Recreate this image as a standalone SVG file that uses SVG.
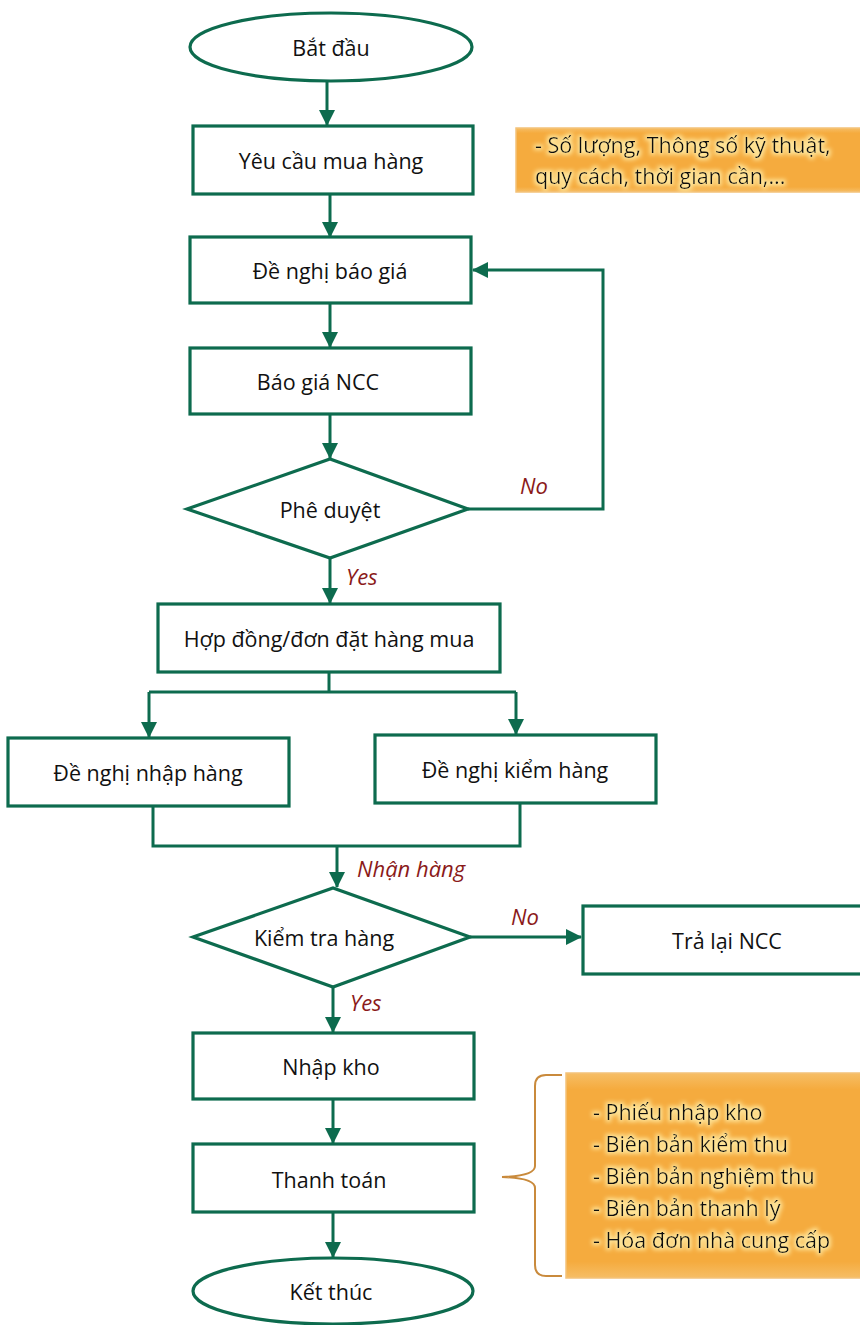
<svg xmlns="http://www.w3.org/2000/svg" width="860" height="1325" viewBox="0 0 860 1325">
  <defs>
    <marker id="arrow" markerUnits="userSpaceOnUse" markerWidth="16" markerHeight="16" viewBox="0 0 16 16" refX="15" refY="8" orient="auto">
      <path d="M0,0 L16,8 L0,16 Z" fill="#0D6B4E"/>
    </marker>
    <filter id="glow" x="-10%" y="-30%" width="120%" height="160%">
      <feMorphology in="SourceAlpha" operator="dilate" radius="1.5" result="thick"/>
      <feGaussianBlur in="thick" stdDeviation="2" result="blur"/>
      <feFlood flood-color="#FFE9A0" flood-opacity="0.9"/>
      <feComposite in2="blur" operator="in" result="halo"/>
      <feMerge>
        <feMergeNode in="halo"/>
        <feMergeNode in="SourceGraphic"/>
      </feMerge>
    </filter>
    <linearGradient id="noteFill" x1="0" y1="0" x2="0" y2="1">
      <stop offset="0" stop-color="#F6BE66"/>
      <stop offset="0.08" stop-color="#F5AB3E"/>
      <stop offset="0.92" stop-color="#F5AB3E"/>
      <stop offset="1" stop-color="#F6BE66"/>
    </linearGradient>
  </defs>
  <style>
    .shape { fill: #FFFFFF; stroke: #0D6B4E; stroke-width: 3.2; }
    .label { font-family: "Open Sans", "Liberation Sans", sans-serif; font-size: 21.5px; fill: #111111; text-anchor: middle; dominant-baseline: central; }
    .flow { fill: none; stroke: #0D6B4E; stroke-width: 3; }
    .tag { font-family: "Open Sans", "Liberation Sans", sans-serif; font-size: 22px; font-style: italic; fill: #8B1A1A; }
    .note { fill: url(#noteFill); stroke: #F3C27A; stroke-width: 1.5; }
    .noteText { font-family: "Open Sans", "Liberation Sans", sans-serif; font-size: 21.5px; fill: #111111; }
    .brace { fill: none; stroke: #C98A3C; stroke-width: 2; }
  </style>

  <rect width="860" height="1325" fill="#FFFFFF"/>

  <!-- connectors -->
  <g id="connectors">
    <path class="flow" d="M327,82 V125" marker-end="url(#arrow)"/>
    <path class="flow" d="M330,194 V237" marker-end="url(#arrow)"/>
    <path class="flow" d="M330,303 V347" marker-end="url(#arrow)"/>
    <path class="flow" d="M330,414 V458" marker-end="url(#arrow)"/>
    <path class="flow" d="M468,509 H603 V270 H473" marker-end="url(#arrow)"/>
    <path class="flow" d="M330,558 V603" marker-end="url(#arrow)"/>
    <path class="flow" d="M329,672 V692"/>
    <path class="flow" d="M149,692 H516"/>
    <path class="flow" d="M149,692 V737" marker-end="url(#arrow)"/>
    <path class="flow" d="M516,692 V734" marker-end="url(#arrow)"/>
    <path class="flow" d="M153,806 V846 H520 V803"/>
    <path class="flow" d="M337,846 V887" marker-end="url(#arrow)"/>
    <path class="flow" d="M470,937 H581" marker-end="url(#arrow)"/>
    <path class="flow" d="M333,987 V1032" marker-end="url(#arrow)"/>
    <path class="flow" d="M333,1100 V1143" marker-end="url(#arrow)"/>
    <path class="flow" d="M333,1212 V1257" marker-end="url(#arrow)"/>
    <text class="tag" x="520" y="494">No</text>
    <text class="tag" x="346" y="585">Yes</text>
    <text class="tag" x="357" y="877">Nhận hàng</text>
    <text class="tag" x="511" y="925">No</text>
    <text class="tag" x="350" y="1011">Yes</text>
  </g>

  <g id="start">
    <ellipse class="shape" cx="331" cy="47" rx="141" ry="34"/>
    <text class="label" x="331" y="47">Bắt đầu</text>
  </g>
  <g id="purchase-request">
    <rect class="shape" x="193" y="126" width="280" height="68"/>
    <text class="label" x="331" y="160">Yêu cầu mua hàng</text>
  </g>
  <g id="request-quote">
    <rect class="shape" x="190" y="237" width="281" height="66"/>
    <text class="label" x="330" y="270">Đề nghị báo giá</text>
  </g>
  <g id="supplier-quote">
    <rect class="shape" x="190" y="348" width="281" height="66"/>
    <text class="label" x="318" y="381">Báo giá NCC</text>
  </g>
  <g id="approval">
    <polygon class="shape" points="187,509 330,459 468,509 330,558"/>
    <text class="label" x="330" y="509">Phê duyệt</text>
  </g>
  <g id="purchase-order">
    <rect class="shape" x="158" y="604" width="342" height="68"/>
    <text class="label" x="329" y="638">Hợp đồng/đơn đặt hàng mua</text>
  </g>
  <g id="receive-request">
    <rect class="shape" x="8" y="738" width="281" height="68"/>
    <text class="label" x="148" y="772">Đề nghị nhập hàng</text>
  </g>
  <g id="inspect-request">
    <rect class="shape" x="375" y="735" width="281" height="68"/>
    <text class="label" x="515" y="769">Đề nghị kiểm hàng</text>
  </g>
  <g id="inspection">
    <polygon class="shape" points="193,937 333,888 470,937 333,987"/>
    <text class="label" x="324" y="937">Kiểm tra hàng</text>
  </g>
  <g id="return">
    <rect class="shape" x="583" y="906" width="290" height="68"/>
    <text class="label" x="727" y="940">Trả lại NCC</text>
  </g>
  <g id="stock-in">
    <rect class="shape" x="193" y="1033" width="281" height="66"/>
    <text class="label" x="331" y="1066">Nhập kho</text>
  </g>
  <g id="payment">
    <rect class="shape" x="193" y="1144" width="281" height="68"/>
    <text class="label" x="329" y="1179">Thanh toán</text>
  </g>
  <g id="end">
    <ellipse class="shape" cx="333" cy="1291" rx="140" ry="33"/>
    <text class="label" x="331" y="1291">Kết thúc</text>
  </g>

  <g id="request-note">
    <rect class="note" x="516" y="128" width="350" height="64"/>
    <g filter="url(#glow)">
      <text class="noteText" x="535" y="153">- Số lượng, Thông số kỹ thuật,</text>
      <text class="noteText" x="535" y="184">quy cách, thời gian cần,...</text>
    </g>
  </g>

  <g id="documents-note">
    <path class="brace" d="M562,1075 H546 Q535,1075 535,1086 V1166 Q535,1176 502,1177 Q535,1178 535,1188 V1265 Q535,1276 546,1276 H562"/>
    <rect class="note" x="566" y="1073" width="300" height="205"/>
    <g filter="url(#glow)">
      <text class="noteText" x="593" y="1120">- Phiếu nhập kho</text>
      <text class="noteText" x="593" y="1152">- Biên bản kiểm thu</text>
      <text class="noteText" x="593" y="1184">- Biên bản nghiệm thu</text>
      <text class="noteText" x="593" y="1216">- Biên bản thanh lý</text>
      <text class="noteText" x="593" y="1248">- Hóa đơn nhà cung cấp</text>
    </g>
  </g>
</svg>
